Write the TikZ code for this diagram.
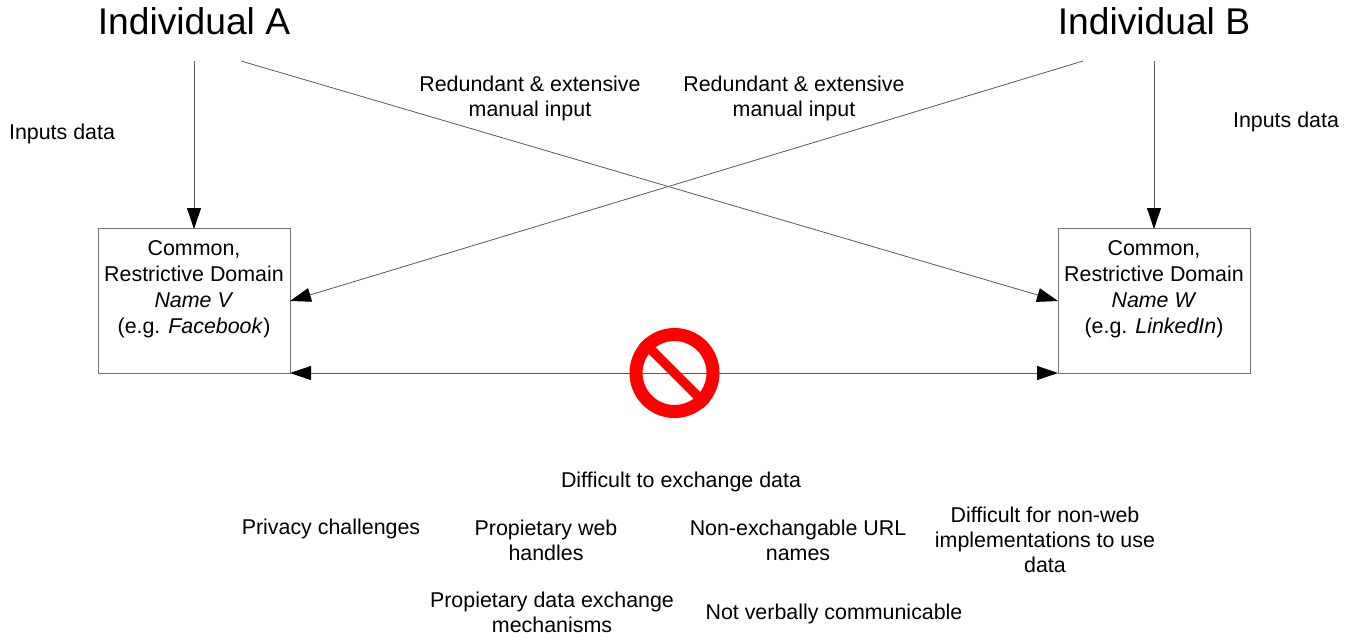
\documentclass[tikz,border=0pt]{standalone}
\usepackage{fontspec}
\setmainfont{Liberation Sans}
\usetikzlibrary{arrows.meta}
\definecolor{norep}{RGB}{255,0,0}
\tikzset{
 px/.style={x=1pt,y=-1pt},
 lab/.style={font=\fontsize{21.4}{25}\selectfont,align=center,inner sep=0pt,anchor=center},
 head/.style={font=\fontsize{37.2}{40}\selectfont,inner sep=0pt,anchor=center},
 dbox/.style={draw=black!55,line width=0.9pt,minimum width=192pt,minimum height=145pt,inner sep=0pt,font=\fontsize{21.4}{26}\selectfont,align=center},
 conn/.style={draw=black!65,line width=0.8pt,-{Triangle[length=21pt,width=14pt,color=black]}},
 conn2/.style={draw=black!65,line width=0.8pt,{Triangle[length=21pt,width=14pt,color=black]}-{Triangle[length=21pt,width=14pt,color=black]}}
}
\begin{document}
\begin{tikzpicture}[px]
\useasboundingbox (0,0) rectangle (1353,638);
\node[head] (a) at (194,21) {Individual A};
\node[head] (b) at (1154,21) {Individual B};
\node[dbox] (v) at (194,301) {Common,\\Restrictive Domain\\\textit{Name V}\\(e.g. \textit{Facebook})\\[2pt]\mbox{}};
\node[dbox] (w) at (1154,301) {Common,\\Restrictive Domain\\\textit{Name W}\\(e.g. \textit{LinkedIn})\\[2pt]\mbox{}};
\coordinate (a1) at (194,61);
\coordinate (a2) at (241,61);
\coordinate (b1) at (1154,61);
\coordinate (b2) at (1083,61);
\coordinate (v1) at (194,229);
\coordinate (v2) at (290,301);
\coordinate (w1) at (1154,229);
\coordinate (w2) at (1058,301);
\coordinate (vb) at (290,373);
\coordinate (wb) at (1058,373);
\draw[conn] (a1) -- (v1);
\draw[conn] (b1) -- (w1);
\draw[conn] (a2) -- (w2);
\draw[conn] (b2) -- (v2);
\draw[conn2] (vb) -- (wb);
\node[circle,draw=norep,line width=13pt,minimum size=77pt,inner sep=0pt] (no) at (674.5,373) {};
\draw[norep,line width=9.5pt] (no.135) -- (no.-45);
\node[lab] (t1) at (62,134) {Inputs data};
\node[lab] (t2) at (1286,122) {Inputs data};
\node[lab] (t3) at (530,98) {Redundant \& extensive\\manual input};
\node[lab] (t4) at (794,98) {Redundant \& extensive\\manual input};
\node[lab] (t5) at (681,482) {Difficult to exchange data};
\node[lab] (t6) at (331,529) {Privacy challenges};
\node[lab] (t7) at (546,540) {Propietary web\\handles};
\node[lab] (t8) at (798,540) {Non-exchangable URL\\names};
\node[lab] (t9) at (1045,540) {Difficult for non-web\\implementations to use\\data};
\node[lab] (t10) at (552,612) {Propietary data exchange\\mechanisms};
\node[lab] (t11) at (834,614) {Not verbally communicable};
\end{tikzpicture}
\end{document}
